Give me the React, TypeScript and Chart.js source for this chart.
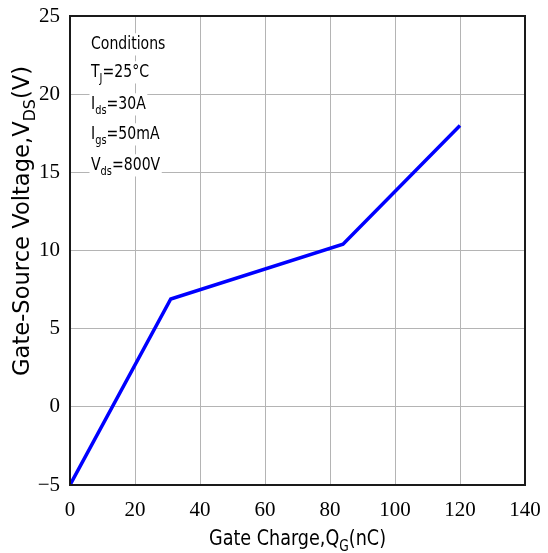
import React, { useEffect, useRef } from "react";
import { Chart, registerables } from "chart.js";
Chart.register(...registerables);

// ---- data ----
const chargeQG = [0, 31, 84, 120];
const gateVoltage = [-5, 6.9, 10.4, 18];
const xTickValues = [0, 20, 40, 60, 80, 100, 120, 140];
const yTickValues = [-5, 0, 5, 10, 15, 20, 25];

type Part = { t: string; sub?: boolean };
const xTitleParts: Part[] = [{ t: "Gate Charge,Q" }, { t: "G", sub: true }, { t: "(nC)" }];
const yTitleParts: Part[] = [{ t: "Gate-Source Voltage,V" }, { t: "DS", sub: true }, { t: "(V)" }];
const conditionLines: Part[][] = [
  [{ t: "Conditions" }],
  [{ t: "T" }, { t: "J", sub: true }, { t: "=25°C" }],
  [{ t: "I" }, { t: "ds", sub: true }, { t: "=30A" }],
  [{ t: "I" }, { t: "gs", sub: true }, { t: "=50mA" }],
  [{ t: "V" }, { t: "ds", sub: true }, { t: "=800V" }],
];

const SANS = "'DejaVu Sans', sans-serif";
const SERIF = "'Liberation Serif', serif";

function measureRich(ctx: CanvasRenderingContext2D, parts: Part[], size: number, family: string) {
  let w = 0;
  for (const p of parts) {
    ctx.font = `${p.sub ? size * 0.7 : size}px ${family}`;
    w += ctx.measureText(p.t).width;
  }
  return w;
}

function drawRich(ctx: CanvasRenderingContext2D, parts: Part[], size: number, family: string, startX: number, baseline: number) {
  let x = startX;
  ctx.textBaseline = "alphabetic";
  ctx.textAlign = "left";
  for (const p of parts) {
    const s = p.sub ? size * 0.7 : size;
    ctx.font = `${s}px ${family}`;
    ctx.fillText(p.t, x, baseline + (p.sub ? size * 0.27 : 0));
    x += ctx.measureText(p.t).width;
  }
}

const decorPlugin = {
  id: "decor",
  afterDraw(chart: any) {
    const ctx: CanvasRenderingContext2D = chart.ctx;
    const { left, right, top, bottom } = chart.chartArea;
    ctx.save();
    // frame
    ctx.strokeStyle = "#1a1a1a";
    ctx.lineWidth = 2;
    ctx.strokeRect(left, top, right - left, bottom - top);

    ctx.fillStyle = "#000";
    // x title
    {
      const size = 22;
      const w = measureRich(ctx, xTitleParts, size, SANS);
      const sx = 177 / w;
      ctx.save();
      ctx.translate((left + right) / 2, 545);
      ctx.scale(sx, 1);
      drawRich(ctx, xTitleParts, size, SANS, -w / 2, 0);
      ctx.restore();
    }
    // y title
    {
      const size = 23;
      const w = measureRich(ctx, yTitleParts, size, SANS);
      const sx = 310 / w;
      ctx.save();
      ctx.translate(29, 221);
      ctx.rotate(-Math.PI / 2);
      ctx.scale(sx, 1);
      drawRich(ctx, yTitleParts, size, SANS, -w / 2, 0);
      ctx.restore();
    }
    // conditions
    {
      const size = 18.5;
      const sx = 0.76;
      const baselines = [49, 77, 109, 139, 170];
      conditionLines.forEach((parts, i) => {
        const w = measureRich(ctx, parts, size, SANS);
        ctx.save();
        ctx.translate(91, baselines[i]);
        ctx.scale(sx, 1);
        ctx.fillStyle = "#fff";
        ctx.fillRect(-2, -size * 0.85, w + 4, size * 1.2);
        ctx.fillStyle = "#000";
        drawRich(ctx, parts, size, SANS, 0, 0);
        ctx.restore();
      });
    }
    ctx.restore();
  },
};

export default function App() {
  const ref = useRef<HTMLCanvasElement | null>(null);
  useEffect(() => {
    if (!ref.current) return;
    const chart = new Chart(ref.current, {
      type: "line",
      data: {
        datasets: [
          {
            data: chargeQG.map((x, i) => ({ x, y: gateVoltage[i] })),
            borderColor: "#0000ff",
            borderWidth: 3.5,
            pointRadius: 0,
            tension: 0,
            fill: false,
          },
        ],
      },
      options: {
        animation: false,
        responsive: false,
        layout: { padding: { left: 0, right: 23, top: 16, bottom: 0 } },
        plugins: { legend: { display: false }, tooltip: { enabled: false } },
        scales: {
          x: {
            type: "linear",
            min: 0,
            max: 140,
            afterBuildTicks: (s: any) => {
              s.ticks = xTickValues.map((v) => ({ value: v }));
            },
            afterFit: (s: any) => {
              s.height = 68;
              s.paddingLeft = 0;
              s.paddingRight = 0;
            },
            grid: { color: "#b4b4b4", lineWidth: 1, drawTicks: false },
            border: { display: false },
            ticks: {
              color: "#000",
              padding: 13,
              maxRotation: 0,
              font: { family: SERIF, size: 21 },
              callback: (v: any) => String(v).replace("-", "\u2212"),
            },
          },
          y: {
            type: "linear",
            min: -5,
            max: 25,
            afterBuildTicks: (s: any) => {
              s.ticks = yTickValues.map((v) => ({ value: v }));
            },
            afterFit: (s: any) => {
              s.width = 70;
              s.paddingTop = 0;
              s.paddingBottom = 0;
            },
            grid: { color: "#b4b4b4", lineWidth: 1, drawTicks: false },
            border: { display: false },
            ticks: {
              color: "#000",
              padding: 10,
              font: { family: SERIF, size: 21 },
              callback: (v: any) => String(v).replace("-", "\u2212"),
            },
          },
        },
      },
      plugins: [decorPlugin],
    });
    return () => chart.destroy();
  }, []);
  return (
    <div style={{ position: "fixed", left: 0, top: 0, width: 548, height: 553, background: "#fff" }}>
      <canvas ref={ref} width={548} height={553} style={{ display: "block" }} />
    </div>
  );
}
